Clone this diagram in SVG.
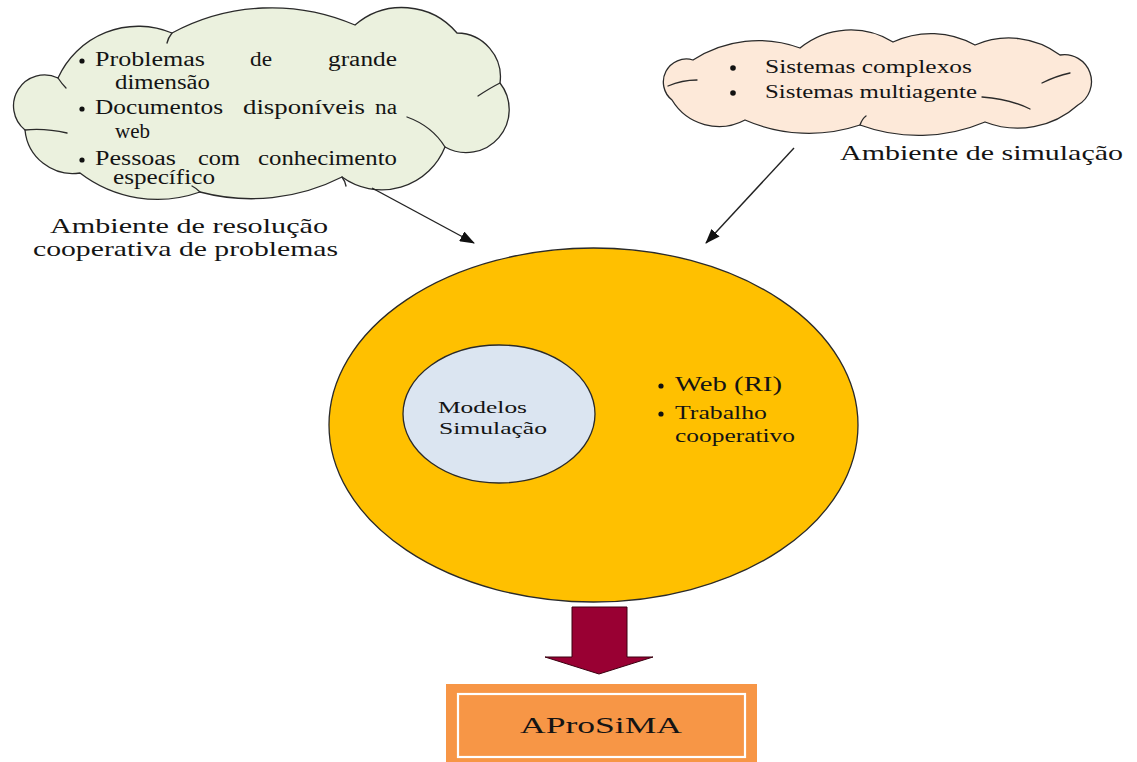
<svg xmlns="http://www.w3.org/2000/svg" width="1137" height="762" viewBox="0 0 1137 762">
<style>
  .t { font-family: "Liberation Serif", "Times New Roman", serif; fill: #141414; }
  .cloud { stroke: #2a2a2a; stroke-width: 1.3; stroke-linejoin: round; }
  .crease { fill: none; stroke: #2a2a2a; stroke-width: 1.3; stroke-linecap: round; }
  .bul { fill: #111; }
  .conn { stroke: #222; stroke-width: 1.4; fill: none; marker-end: url(#ah); }
</style>
<defs>
  <marker id="ah" markerUnits="userSpaceOnUse" markerWidth="15" markerHeight="11" refX="14" refY="5.5" orient="auto">
    <path d="M0,0 L15,5.5 L0,11 z" fill="#111"/>
  </marker>
</defs>
<rect width="1137" height="762" fill="#ffffff"/>

<g id="cloud-problems">
  <path class="cloud" fill="#EBF1DE" d="M 25 130 A 31 31 0 0 1 58 78 A 88 88 0 0 1 172 33 A 210 210 0 0 1 355 25 A 72 72 0 0 1 457 33 A 44 44 0 0 1 500 83 A 43 43 0 0 1 445 147 A 68 68 0 0 1 342 177 A 200 200 0 0 1 200 192 A 127 127 0 0 1 80 173 A 48 48 0 0 1 25 130 Z"/>
  <path class="crease" d="M 25 130 Q 45 128 67 133"/>
  <path class="crease" d="M 58 78 Q 62 84 66 88"/>
  <path class="crease" d="M 407 117 Q 432 126 445 147"/>
  <path class="crease" d="M 478 96 Q 490 88 500 83"/>
  <path class="crease" d="M 172 33 Q 168 38 167 43"/>
  <path class="crease" d="M 342 177 Q 345 181 346 186"/>
  <path class="crease" d="M 200 192 Q 196 188 192 186"/>
  <circle class="bul" cx="82" cy="61" r="2.6"/>
  <text class="t" font-size="20" x="95" y="66" textLength="110" lengthAdjust="spacingAndGlyphs">Problemas</text>
  <text class="t" font-size="20" x="250" y="66" textLength="22" lengthAdjust="spacingAndGlyphs">de</text>
  <text class="t" font-size="20" x="328" y="66" textLength="69" lengthAdjust="spacingAndGlyphs">grande</text>
  <text class="t" font-size="20" x="115" y="89" textLength="95" lengthAdjust="spacingAndGlyphs">dimensão</text>
  <circle class="bul" cx="82" cy="109" r="2.6"/>
  <text class="t" font-size="20" x="95" y="114" textLength="128" lengthAdjust="spacingAndGlyphs">Documentos</text>
  <text class="t" font-size="20" x="243" y="114" textLength="122" lengthAdjust="spacingAndGlyphs">disponíveis</text>
  <text class="t" font-size="20" x="375" y="114" textLength="22" lengthAdjust="spacingAndGlyphs">na</text>
  <text class="t" font-size="20" x="115" y="138" textLength="35" lengthAdjust="spacingAndGlyphs">web</text>
  <circle class="bul" cx="82" cy="160" r="2.6"/>
  <text class="t" font-size="20" x="95" y="165" textLength="81" lengthAdjust="spacingAndGlyphs">Pessoas</text>
  <text class="t" font-size="20" x="198" y="165" textLength="42" lengthAdjust="spacingAndGlyphs">com</text>
  <text class="t" font-size="20" x="258" y="165" textLength="139" lengthAdjust="spacingAndGlyphs">conhecimento</text>
  <text class="t" font-size="20" x="113" y="184" textLength="102" lengthAdjust="spacingAndGlyphs">específico</text>
  <text class="t" font-size="22" x="50" y="233" textLength="278" lengthAdjust="spacingAndGlyphs">Ambiente de resolução</text>
  <text class="t" font-size="22" x="33" y="256" textLength="305" lengthAdjust="spacingAndGlyphs">cooperativa de problemas</text>
</g>

<g id="cloud-simulation">
  <path class="cloud" fill="#FDE9D9" d="M 672 100 A 23 23 0 0 1 693 60 A 120 120 0 0 1 800 48 A 80 80 0 0 1 893 42 A 90 90 0 0 1 975 45 A 85 85 0 0 1 1060 55 A 27 27 0 0 1 1078 105 A 90 90 0 0 1 985 122 A 170 170 0 0 1 860 125 A 160 160 0 0 1 745 120 A 55 55 0 0 1 672 100 Z"/>
  <path class="crease" d="M 668 86 Q 682 80 697 80"/>
  <path class="crease" d="M 982 97 Q 1010 99 1030 109"/>
  <path class="crease" d="M 1042 83 Q 1056 76 1070 73"/>
  <path class="crease" d="M 860 125 Q 862 119 866 116"/>
  <circle class="bul" cx="733" cy="68" r="2.8"/>
  <text class="t" font-size="18" x="765" y="73" textLength="207" lengthAdjust="spacingAndGlyphs">Sistemas complexos</text>
  <circle class="bul" cx="733" cy="93" r="2.8"/>
  <text class="t" font-size="18" x="765" y="98" textLength="212" lengthAdjust="spacingAndGlyphs">Sistemas multiagente</text>
  <text class="t" font-size="22" x="840" y="160" textLength="283" lengthAdjust="spacingAndGlyphs">Ambiente de simulação</text>
</g>

<g id="core">
  <ellipse cx="593.5" cy="425" rx="264.5" ry="177" fill="#FFC000" stroke="#2a2a2a" stroke-width="1.3"/>
  <circle class="bul" cx="661" cy="386" r="2.6"/>
  <text class="t" font-size="21" x="675" y="391" textLength="107" lengthAdjust="spacingAndGlyphs">Web (RI)</text>
  <circle class="bul" cx="661" cy="414" r="2.6"/>
  <text class="t" font-size="18" x="675" y="419" textLength="92" lengthAdjust="spacingAndGlyphs">Trabalho</text>
  <text class="t" font-size="18" x="675" y="442" textLength="120" lengthAdjust="spacingAndGlyphs">cooperativo</text>
</g>

<g id="models">
  <ellipse cx="499" cy="414" rx="96" ry="69" fill="#DBE5F1" stroke="#2a2a2a" stroke-width="1.3"/>
  <text class="t" font-size="17" x="438" y="413" textLength="89" lengthAdjust="spacingAndGlyphs">Modelos</text>
  <text class="t" font-size="17" x="439" y="434" textLength="108" lengthAdjust="spacingAndGlyphs">Simulação</text>
</g>

<g id="aprosima">
  <rect x="446" y="684" width="311" height="80" fill="#F79646"/>
  <rect x="458" y="694" width="287" height="63" fill="none" stroke="#ffffff" stroke-width="2.2"/>
  <text class="t" font-size="24" x="520" y="733" textLength="162" lengthAdjust="spacingAndGlyphs">AProSiMA</text>
</g>

<g id="connectors">
  <line class="conn" x1="372" y1="188" x2="474" y2="243"/>
  <line class="conn" x1="794" y1="148" x2="706" y2="243"/>
  <path d="M 572 607 L 627 607 L 627 657 L 653 657 L 599 674 L 545 657 L 572 657 Z" fill="#990033" stroke="#3a0010" stroke-width="1"/>
</g>
</svg>
